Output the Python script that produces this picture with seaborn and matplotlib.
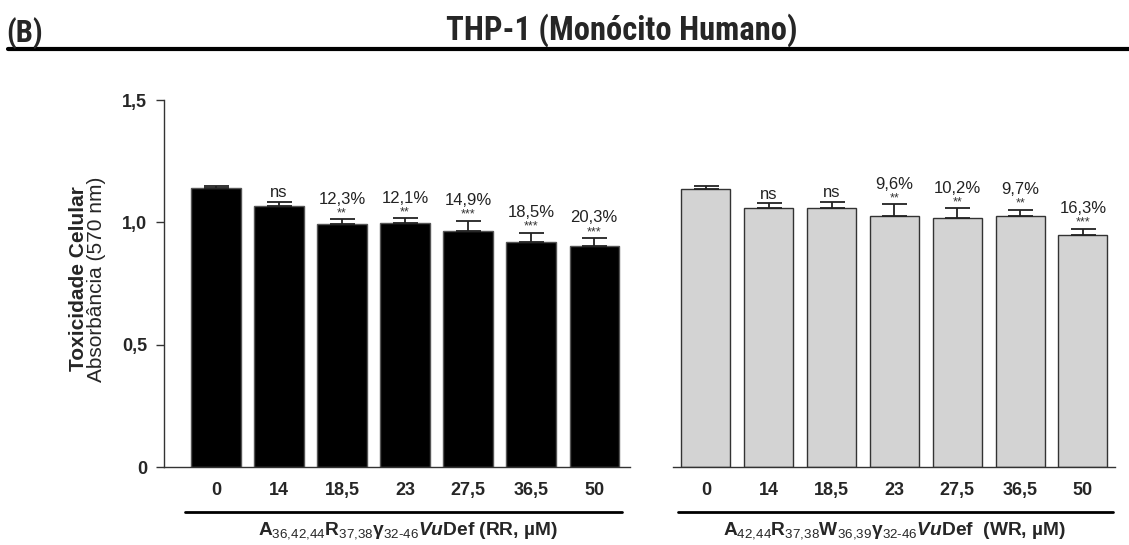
import matplotlib
matplotlib.use("Agg")
import matplotlib.pyplot as plt
import seaborn as sns
import pandas as pd
import numpy as np
from matplotlib import font_manager

# ---------------- data ----------------
concentrations = ["0", "14", "18,5", "23", "27,5", "36,5", "50"]
rr_means = [1.140, 1.068, 0.995, 0.999, 0.965, 0.921, 0.905]
rr_err = [0.008, 0.016, 0.017, 0.017, 0.042, 0.036, 0.031]
rr_pct = ["", "", "12,3%", "12,1%", "14,9%", "18,5%", "20,3%"]
rr_sig = ["", "ns", "**", "**", "***", "***", "***"]

wr_means = [1.137, 1.060, 1.060, 1.026, 1.018, 1.026, 0.950]
wr_err = [0.012, 0.018, 0.024, 0.047, 0.040, 0.026, 0.024]
wr_pct = ["", "", "", "9,6%", "10,2%", "9,7%", "16,3%"]
wr_sig = ["", "ns", "ns", "**", "**", "**", "***"]

yticks = [0, 0.5, 1.0, 1.5]
ytick_labels = ["0", "0,5", "1,0", "1,5"]

# ---------------- style ----------------
sns.set_theme(style="ticks")
names = {f.name for f in font_manager.fontManager.ttflist}
base = "Liberation Sans" if "Liberation Sans" in names else "DejaVu Sans"
narrow = base
for cand in ["Liberation Sans Narrow", "Arial Narrow", "Roboto Condensed", "Open Sans Condensed"]:
    if cand in names:
        narrow = cand
        break
plt.rcParams["font.family"] = [base, "DejaVu Sans"]
plt.rcParams["mathtext.fontset"] = "custom"
plt.rcParams["mathtext.rm"] = base
plt.rcParams["mathtext.bf"] = base + ":bold"
plt.rcParams["mathtext.it"] = base + ":italic"
plt.rcParams["mathtext.bfit"] = base + ":italic:bold"

W, H = 1129, 545
fig = plt.figure(figsize=(W / 100, H / 100), dpi=100)


def px_axes(x0, x1, y_top, y_bot):
    return fig.add_axes([x0 / W, (H - y_bot) / H, (x1 - x0) / W, (y_bot - y_top) / H])


def draw_panel(ax, means, errs, pcts, sigs, fill, edge, xlim, show_y):
    df = pd.DataFrame({"conc": concentrations, "abs": means})
    sns.barplot(data=df, x="conc", y="abs", order=concentrations, color=fill,
                saturation=1, width=0.78, edgecolor=edge, linewidth=1.0,
                errorbar=None, ax=ax)
    xs = np.arange(len(concentrations))
    ax.errorbar(xs, means, yerr=[np.zeros(len(errs)), errs], fmt="none",
                ecolor="#222222", elinewidth=1.3, capsize=9, capthick=1.3)
    for i, (m, e, p, s) in enumerate(zip(means, errs, pcts, sigs)):
        top = m + e
        if s == "ns":
            ax.annotate("ns", (i, top), xytext=(0, 1), textcoords="offset points",
                        ha="center", va="bottom", fontsize=12, color="#222222")
        elif s:
            ax.annotate(s, (i, top), xytext=(0, 0), textcoords="offset points",
                        ha="center", va="bottom", fontsize=9, color="#333333")
        if p:
            ax.annotate(p, (i, top), xytext=(0, 9), textcoords="offset points",
                        ha="center", va="bottom", fontsize=12, color="#222222")
    ax.set_xlim(*xlim)
    ax.set_ylim(0, 1.5)
    ax.set_xlabel("")
    ax.set_ylabel("")
    ax.tick_params(axis="x", length=0, pad=11, labelsize=13)
    for lab in ax.get_xticklabels():
        lab.set_fontweight("bold")
    for sp in ["top", "right"]:
        ax.spines[sp].set_visible(False)
    ax.spines["bottom"].set_linewidth(1.0)
    ax.spines["bottom"].set_color("#333333")
    if show_y:
        ax.set_yticks(yticks)
        ax.set_yticklabels(ytick_labels, fontsize=13, fontweight="bold")
        ax.tick_params(axis="y", length=6, width=1.0, pad=6, color="#333333")
        ax.spines["left"].set_linewidth(1.0)
        ax.spines["left"].set_color("#333333")
    else:
        ax.spines["left"].set_visible(False)
        ax.set_yticks([])
    ax.set_facecolor("none")


ax1 = px_axes(164, 630, 100, 467)
draw_panel(ax1, rr_means, rr_err, rr_pct, rr_sig, "black", "#555555", (-0.825, 6.57), True)

ax2 = px_axes(673, 1115, 100, 467)
draw_panel(ax2, wr_means, wr_err, wr_pct, wr_sig, "#d3d3d3", "#333333", (-0.525, 6.51), False)

# group underline + labels
fig.add_artist(plt.Line2D([185 / W, 622 / W], [1 - 512 / H] * 2, color="black", lw=2))
fig.add_artist(plt.Line2D([678 / W, 1113 / W], [1 - 512 / H] * 2, color="black", lw=2))
lab_rr = (r"$\mathbf{A}_{36{,}42{,}44}\mathbf{R}_{37{,}38}\mathbf{\gamma}_{32\text{-}46}"
          r"\mathbfit{Vu}\mathbf{Def}$ (RR, µM)")
lab_wr = (r"$\mathbf{A}_{42{,}44}\mathbf{R}_{37{,}38}\mathbf{W}_{36{,}39}\mathbf{\gamma}_{32\text{-}46}"
          r"\mathbfit{Vu}\mathbf{Def}$  (WR, µM)")
fig.text(408 / W, 1 - 531 / H, lab_rr, ha="center", va="center", fontsize=13.8, fontweight="bold")
fig.text(894 / W, 1 - 531 / H, lab_wr, ha="center", va="center", fontsize=13.8, fontweight="bold")

# y label (two lines)
fig.text(79 / W, 1 - 279 / H, "Toxicidade Celular", rotation=90, ha="center", va="center",
         fontsize=15, fontweight="bold")
fig.text(97 / W, 1 - 279 / H, "Absorbância (570 nm)", rotation=90, ha="center", va="center",
         fontsize=15)

# header
fig.text(622 / W, 1 - 40 / H, "THP-1 (Monócito Humano)", ha="center", va="baseline",
         fontsize=23.5, fontweight="bold", family=[narrow, "DejaVu Sans"])
fig.text(6 / W, 1 - 42 / H, "(B)", ha="left", va="baseline",
         fontsize=22, fontweight="bold", family=[narrow, "DejaVu Sans"])
fig.add_artist(plt.Line2D([8 / W, 1.0], [1 - 49 / H] * 2, color="black", lw=3))

fig.savefig("out.png", dpi=100)
